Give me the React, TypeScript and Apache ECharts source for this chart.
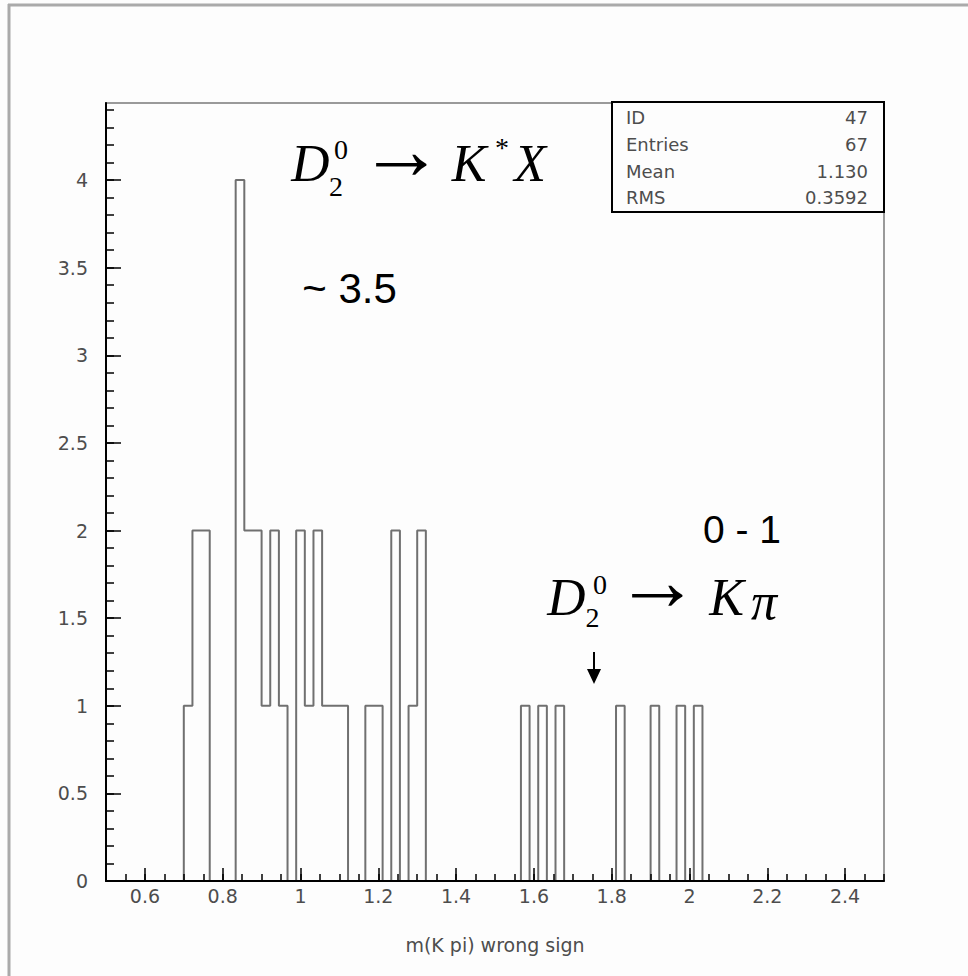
import React, { useEffect, useRef } from 'react';
import * as echarts from 'echarts';

// Histogram range and contents (90 bins between 0.5 and 2.5)
const histMin = 0.5;
const histMax = 2.5;
const binCounts = [
  0, 0, 0, 0, 0, 0, 0, 0, 0, 1,
  2, 2, 0, 0, 0, 4, 2, 2, 1, 2,
  1, 0, 2, 1, 2, 1, 1, 1, 0, 0,
  1, 1, 0, 2, 0, 1, 2, 0, 0, 0,
  0, 0, 0, 0, 0, 0, 0, 0, 1, 0,
  1, 0, 1, 0, 0, 0, 0, 0, 0, 1,
  0, 0, 0, 1, 0, 0, 1, 0, 1, 0,
  0, 0, 0, 0, 0, 0, 0, 0, 0, 0,
  0, 0, 0, 0, 0, 0, 0, 0, 0, 0,
];

const xTickLabels = [0.6, 0.8, 1, 1.2, 1.4, 1.6, 1.8, 2, 2.2, 2.4];
const yTickLabels = [0, 0.5, 1, 1.5, 2, 2.5, 3, 3.5, 4];
const yMax = 4.44;
const xTitle = 'm(K pi) wrong sign';

const statsLabels = ['ID', 'Entries', 'Mean', 'RMS'];
const statsValues = ['47', '67', '1.130', '0.3592'];

const peakNote = '~ 3.5';
const rangeNote = '0 - 1';

export default function App() {
  const ref = useRef<HTMLDivElement>(null);

  useEffect(() => {
    if (!ref.current) return;
    const chart = echarts.init(ref.current, null, { renderer: 'svg' });

    const binWidth = (histMax - histMin) / binCounts.length;
    const stepData: number[][] = binCounts.map((c, k) => [histMin + k * binWidth, c]);
    stepData.push([histMax, 0]);

    const xMinor: number[] = [];
    for (let i = 0; i <= 40; i++) xMinor.push(+(histMin + i * 0.05).toFixed(2));
    const yMinor: number[] = [];
    for (let i = 0; i <= 44; i++) yMinor.push(+(i * 0.1).toFixed(1));

    const labelFont = 'DejaVu Sans';
    const labelColor = '#4d4d4d';
    const serif = 'Liberation Serif';
    const sans = 'Liberation Sans';

    const t = (
      text: string, x: number, y: number, fontSize: number, fontFamily: string,
      fontStyle = 'normal', align = 'center', fill = '#000'
    ) => ({
      type: 'text', x, y, silent: true, z: 100,
      style: { text, fontSize, fontFamily, fontStyle, fill, align, verticalAlign: 'middle' },
    });

    const statRowsY = [117.5, 144, 171.5, 197.5];
    const statsEls: any[] = [
      {
        type: 'rect', z: 90, silent: true,
        shape: { x: 612, y: 102, width: 272, height: 110 },
        style: { fill: '#fdfdfd', stroke: '#000', lineWidth: 2 },
      },
    ];
    statsLabels.forEach((l, i) => {
      statsEls.push(t(l, 626, statRowsY[i], 18, labelFont, 'normal', 'left', labelColor));
      statsEls.push(t(statsValues[i], 868, statRowsY[i], 18, labelFont, 'normal', 'right', labelColor));
    });

    const option: any = {
      animation: false,
      backgroundColor: '#fdfdfd',
      grid: {
        left: 106, top: 103, width: 778, height: 778,
        show: true, borderColor: '#9a9a9a', borderWidth: 2, backgroundColor: 'transparent',
      },
      xAxis: [
        {
          type: 'value', min: histMin, max: histMax, position: 'bottom', z: 5,
          axisLine: { show: true, onZero: false, lineStyle: { color: '#000', width: 2 } },
          axisTick: { show: true, inside: true, length: 13, customValues: xTickLabels, lineStyle: { color: '#000', width: 1.5 } },
          axisLabel: { show: true, customValues: xTickLabels, margin: 5, fontSize: 19, fontFamily: labelFont, color: labelColor },
          splitLine: { show: false },
          name: xTitle, nameLocation: 'middle', nameGap: 54,
          nameTextStyle: { fontSize: 19, fontFamily: labelFont, color: labelColor },
        },
        {
          type: 'value', min: histMin, max: histMax, position: 'bottom', z: 5,
          axisLine: { show: false },
          axisTick: { show: true, inside: true, length: 7, customValues: xMinor, lineStyle: { color: '#000', width: 1.5 } },
          axisLabel: { show: false },
          splitLine: { show: false },
        },
      ],
      yAxis: [
        {
          type: 'value', min: 0, max: yMax, position: 'left', z: 5,
          axisLine: { show: true, onZero: false, lineStyle: { color: '#000', width: 2 } },
          axisTick: { show: true, inside: true, length: 15, customValues: yTickLabels, lineStyle: { color: '#000', width: 1.5 } },
          axisLabel: { show: true, customValues: yTickLabels, margin: 18, fontSize: 19, fontFamily: labelFont, color: labelColor },
          splitLine: { show: false },
        },
        {
          type: 'value', min: 0, max: yMax, position: 'left', z: 5,
          axisLine: { show: false },
          axisTick: { show: true, inside: true, length: 8, customValues: yMinor, lineStyle: { color: '#000', width: 1.5 } },
          axisLabel: { show: false },
          splitLine: { show: false },
        },
      ],
      series: [
        {
          type: 'line', xAxisIndex: 0, yAxisIndex: 0, step: 'end',
          data: stepData, symbol: 'none', silent: true, z: 2,
          lineStyle: { color: '#707070', width: 2 },
        },
      ],
      graphic: {
        elements: [
          // outer picture frame (top and left edges)
          { type: 'line', silent: true, shape: { x1: 8, y1: 5, x2: 968, y2: 5 }, style: { stroke: '#aaaaaa', lineWidth: 3 } },
          { type: 'line', silent: true, shape: { x1: 9, y1: 4, x2: 9, y2: 976 }, style: { stroke: '#aaaaaa', lineWidth: 3 } },
          ...statsEls,
          // D2^0 -> K* X
          t('D', 310.5, 163, 53, serif, 'italic'),
          t('0', 341, 149, 28, serif),
          t('2', 336, 186, 28, serif),
          t('\u2192', 401.5, 150, 85, serif),
          t('K', 469, 163, 52, serif, 'italic'),
          t('*', 502, 147, 28, serif),
          t('X', 530, 163, 52, serif, 'italic'),
          t(peakNote, 349.5, 288, 42, sans),
          t(rangeNote, 742, 529, 39, sans),
          // D2^0 -> K pi
          t('D', 566.5, 597, 53, serif, 'italic'),
          t('0', 600, 584, 28, serif),
          t('2', 592.5, 617, 28, serif),
          t('\u2192', 657.5, 581, 85, serif),
          t('K', 726.7, 597, 52, serif, 'italic'),
          t('\u03c0', 764, 601, 52, serif, 'italic'),
          // small down arrow
          { type: 'line', silent: true, z: 100, shape: { x1: 594, y1: 652, x2: 594, y2: 671 }, style: { stroke: '#000', lineWidth: 2 } },
          { type: 'polygon', silent: true, z: 100, shape: { points: [[587, 669], [601, 669], [594, 684]] }, style: { fill: '#000' } },
        ],
      },
    };

    chart.setOption(option);
    return () => chart.dispose();
  }, []);

  return <div ref={ref} style={{ position: 'fixed', left: 0, top: 0, width: 968, height: 976 }} />;
}
